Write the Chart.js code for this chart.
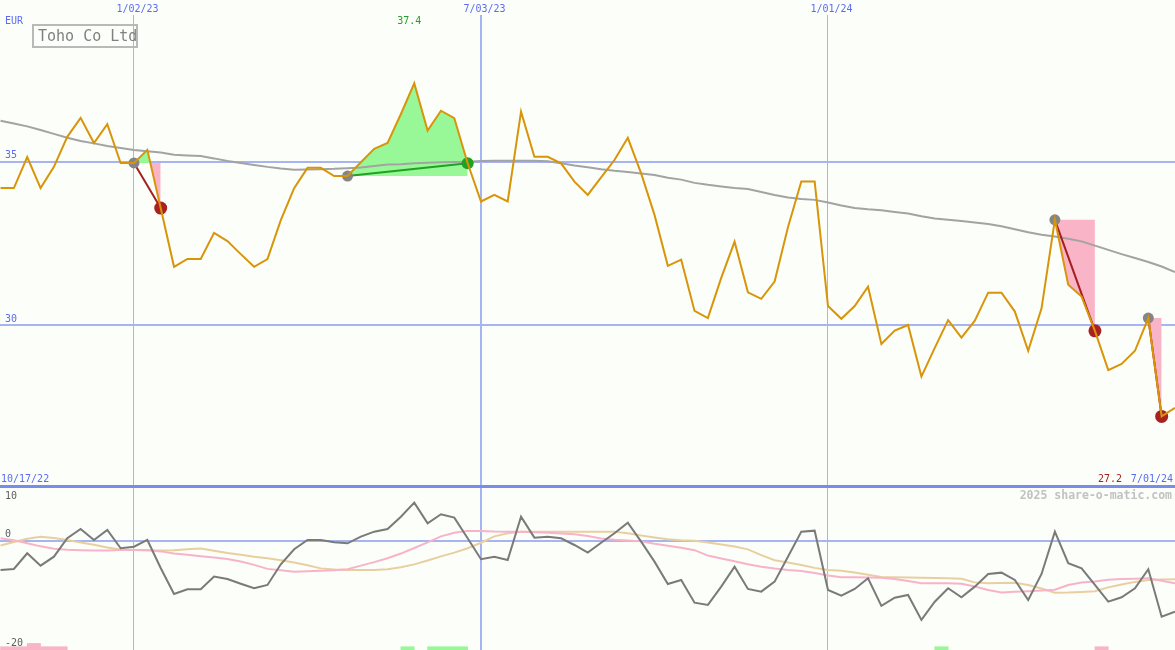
<!DOCTYPE html>
<html>
<head>
<meta charset="utf-8">
<title>Toho Co Ltd</title>
<script src="https://cdn.jsdelivr.net/npm/chart.js@4.4.1/dist/chart.umd.min.js"></script>
<style>
  html, body { margin: 0; padding: 0; background: #fcfefa; }
  #wrap { position: relative; width: 1175px; height: 650px; overflow: hidden; }
  #priceChart { position: absolute; left: 0; top: 0; }
  #oscChart { position: absolute; left: 0; top: 484px; }
</style>
</head>
<body>
<div id="wrap">
  <canvas id="priceChart" width="1175" height="486"></canvas>
  <canvas id="oscChart" width="1175" height="166"></canvas>
</div>
<script>
// --- Data (weekly closes, first point = w/c 24 Oct 2022 = week 1) ---
const company = 'Toho Co Ltd';
const currency = 'EUR';
const firstDate = '10/17/22';
const lastDate = '7/01/24';
const weekStart = 1;

const dateTicks = [11, 37, 63];
const dateLabels = ['1/02/23', '7/03/23', '1/01/24'];
const priceTicks = [30, 35];
const oscTicks = [0, -20];
const oscTopTick = [10];

const closes = [
    34.19, 34.19, 35.14, 34.19, 34.84, 35.76, 36.34, 35.57, 36.15, 34.96,
    34.96, 35.36, 33.58, 31.78, 32.02, 32.02, 32.82, 32.57, 32.17, 31.78,
    32.02, 33.21, 34.19, 34.81, 34.81, 34.56, 34.56, 34.98, 35.39, 35.57,
    36.46, 37.40, 35.95, 36.56, 36.33, 34.95, 33.78, 33.98, 33.78, 36.53,
    35.15, 35.15, 34.95, 34.39, 33.98, 34.52, 35.05, 35.73, 34.64, 33.37,
    31.81, 32.00, 30.43, 30.21, 31.44, 32.55, 31.00, 30.80, 31.33, 32.99,
    34.39, 34.39, 30.58, 30.19, 30.58, 31.17, 29.42, 29.83, 30.00, 28.42,
    29.30, 30.15, 29.61, 30.13, 30.99, 30.99, 30.41, 29.21, 30.51, 33.22,
    31.23, 30.87, 29.82, 28.62, 28.81, 29.21, 30.21, 27.20, 27.46
];

const longAvg = [
    36.25, 36.17, 36.08, 35.97, 35.85, 35.73, 35.63, 35.56, 35.48, 35.42,
    35.36, 35.32, 35.28, 35.21, 35.19, 35.17, 35.10, 35.02, 34.96, 34.90,
    34.84, 34.79, 34.75, 34.76, 34.77, 34.78, 34.80, 34.82, 34.87, 34.91,
    34.92, 34.95, 34.97, 34.98, 34.99, 35.00, 35.02, 35.03, 35.03, 35.03,
    35.03, 35.01, 34.95, 34.88, 34.83, 34.77, 34.72, 34.68, 34.64, 34.59,
    34.51, 34.45, 34.35, 34.29, 34.24, 34.19, 34.16, 34.07, 33.98, 33.90,
    33.86, 33.83, 33.75, 33.66, 33.58, 33.54, 33.51, 33.46, 33.41, 33.33,
    33.26, 33.22, 33.18, 33.14, 33.09, 33.02, 32.93, 32.84, 32.76, 32.71,
    32.64, 32.56, 32.43, 32.30, 32.17, 32.05, 31.93, 31.79, 31.62
];

const momentum = [
    -5.36, -5.18, -2.30, -4.57, -2.93, 0.44, 2.14, 0.13, 1.96, -1.39,
    -1.10, 0.13, -5.00, -9.75, -8.89, -8.89, -6.58, -7.01, -7.87, -8.71,
    -8.10, -4.32, -1.57, 0.13, 0.13, -0.29, -0.48, 0.73, 1.65, 2.14,
    4.39, 6.95, 3.18, 4.83, 4.21, 0.44, -3.40, -2.93, -3.53, 4.39,
    0.55, 0.73, 0.44, -0.79, -2.19, -0.37, 1.35, 3.29, -0.18, -3.84,
    -7.92, -7.19, -11.34, -11.76, -8.41, -4.76, -8.83, -9.33, -7.50, -2.93,
    1.65, 1.83, -9.02, -10.06, -8.83, -6.88, -11.94, -10.43, -9.93, -14.50,
    -11.16, -8.71, -10.35, -8.41, -6.09, -5.85, -7.19, -10.85, -6.09, 1.65,
    -4.13, -5.05, -8.10, -11.16, -10.35, -8.71, -5.23, -13.90, -12.99
];

const fastSignal = [
    0.44, 0.07, -0.46, -1.04, -1.46, -1.65, -1.74, -1.81, -1.78, -1.72,
    -1.70, -1.70, -1.96, -2.34, -2.56, -2.84, -3.07, -3.35, -3.82, -4.43,
    -5.16, -5.41, -5.67, -5.58, -5.51, -5.43, -5.21, -4.57, -3.93, -3.22,
    -2.36, -1.34, -0.31, 0.79, 1.43, 1.79, 1.77, 1.68, 1.65, 1.63,
    1.54, 1.43, 1.30, 1.17, 0.86, 0.40, 0.18, 0.04, -0.13, -0.57,
    -0.91, -1.28, -1.74, -2.73, -3.26, -3.77, -4.32, -4.77, -5.10, -5.36,
    -5.56, -5.91, -6.38, -6.69, -6.71, -6.75, -6.77, -7.01, -7.37, -7.79,
    -7.79, -7.79, -7.87, -8.40, -9.02, -9.48, -9.35, -9.26, -9.13, -8.98,
    -8.12, -7.66, -7.46, -7.13, -7.01, -6.95, -6.88, -7.32, -7.79
];

const slowSignal = [
    -0.90, -0.26, 0.35, 0.70, 0.49, 0.13, -0.33, -0.73, -1.26, -1.63,
    -1.72, -1.81, -1.79, -1.74, -1.59, -1.43, -1.85, -2.25, -2.58, -2.96,
    -3.20, -3.60, -4.01, -4.50, -5.07, -5.29, -5.36, -5.36, -5.36, -5.23,
    -4.88, -4.34, -3.64, -2.87, -2.19, -1.39, -0.38, 0.79, 1.37, 1.65,
    1.65, 1.65, 1.65, 1.65, 1.65, 1.65, 1.65, 1.35, 0.93, 0.57,
    0.26, 0.09, 0.00, -0.35, -0.70, -1.08, -1.59, -2.65, -3.59, -4.01,
    -4.44, -4.98, -5.36, -5.51, -5.82, -6.24, -6.64, -6.71, -6.75, -6.79,
    -6.82, -6.86, -6.97, -7.63, -7.77, -7.74, -7.70, -8.12, -8.76, -9.51,
    -9.48, -9.38, -9.24, -8.54, -8.01, -7.54, -7.21, -7.12, -7.06
];

// trades: entry week, exit week
const tradeIn = [11, 27, 80, 87];
const tradeOut = [13, 36, 83, 88];

// signal blocks along the bottom of the oscillator (week they start in)
const sigWeeks = [1, 2, 3, 4, 5, 31, 33, 34, 35, 71, 83];
const sigSize = [0.6, 0.6, 1.2, 0.6, 0.6, 0.6, 0.6, 0.6, 0.6, 0.6, 0.6];
const sigBuy = [false, false, false, false, false, true, true, true, true, true, false];

// --- Styles ---
const mono = '"DejaVu Sans Mono", "Liberation Mono", monospace';
const labelBlue = '#5b6cf0';
const gridBlue = '#a7b4f3';
const edgeBlue = '#7b8bea';
const winGreen = '#22a022';
const lossRed = '#a51f1f';
const xMin = 0.96, xMax = 89;

const weekNo = closes.map((_, i) => weekStart + i);
const pts = arr => arr.map((v, i) => ({ x: weekNo[i], y: v }));
const priceAt = w => closes[w - weekStart];

const noPad = s => { s.paddingLeft = s.paddingRight = s.paddingTop = s.paddingBottom = 0; };
const dateGrid = {
    color: gridBlue,
    lineWidth: c => (dateLabels[c.index] || '').startsWith('7/') ? 2 : 1,
    drawTicks: false,
    offset: false
};

// --- Price panel ---
const tradeLines = tradeIn.map((w, i) => {
    const a = priceAt(w), b = priceAt(tradeOut[i]);
    const win = b > a;
    return {
        data: [{ x: w, y: a }, { x: tradeOut[i], y: b }],
        borderColor: win ? winGreen : lossRed,
        borderWidth: 2,
        pointRadius: [5.5, win ? 6 : 6.5],
        pointBackgroundColor: ['#858585', win ? winGreen : '#a82222'],
        pointBorderWidth: 0,
        order: 1
    };
});

const tradeLevels = tradeIn.map((w, i) => ({
    data: [{ x: w, y: priceAt(w) }, { x: tradeOut[i], y: priceAt(w) }],
    borderColor: 'rgba(0,0,0,0)',
    borderWidth: 0,
    fill: { target: 0, above: '#f9b4c8', below: '#98f898' },
    order: 4
}));

const priceText = {
    id: 'priceText',
    afterDraw(chart) {
        const { ctx, scales: { x } } = chart;
        ctx.save();
        ctx.font = '10px ' + mono;
        ctx.textBaseline = 'middle';
        ctx.textAlign = 'left';
        ctx.fillStyle = labelBlue;
        ctx.fillText(currency, 5, 21);
        ctx.fillText(firstDate, 1, 479);
        ctx.textAlign = 'right';
        ctx.fillText(lastDate, 1173, 479);

        const hi = Math.max(...closes), lo = Math.min(...closes);
        ctx.textAlign = 'left';
        ctx.fillStyle = winGreen;
        ctx.fillText(hi.toFixed(1), x.getPixelForValue(weekNo[closes.indexOf(hi)]) - 17, 21);
        ctx.textAlign = 'right';
        ctx.fillStyle = lossRed;
        ctx.fillText(lo.toFixed(1), 1122, 479);

        ctx.strokeStyle = '#b9b9b9';
        ctx.lineWidth = 2;
        ctx.strokeRect(33, 25, 104, 22);
        ctx.font = '15px ' + mono;
        ctx.textBaseline = 'alphabetic';
        ctx.textAlign = 'left';
        ctx.fillStyle = '#808080';
        ctx.fillText(company, 38, 41);
        ctx.restore();
    }
};

new Chart(document.getElementById('priceChart'), {
    type: 'line',
    data: {
        datasets: [
            { data: pts(closes), borderColor: '#d8950a', borderWidth: 2, order: 0 },
            { data: pts(longAvg), borderColor: '#a3a3a3', borderWidth: 2, order: 3 },
            ...tradeLines,
            ...tradeLevels
        ]
    },
    options: {
        responsive: false,
        animation: false,
        devicePixelRatio: 1,
        layout: { padding: 0, autoPadding: false },
        elements: { point: { radius: 0 }, line: { tension: 0 } },
        plugins: { legend: { display: false }, tooltip: { enabled: false } },
        scales: {
            x: {
                type: 'linear', position: 'top', min: xMin, max: xMax,
                afterBuildTicks: s => { s.ticks = dateTicks.map(v => ({ value: v })); },
                afterFit: s => { s.height = 15; noPad(s); },
                grid: dateGrid,
                border: { display: false },
                ticks: {
                    color: labelBlue, font: { family: mono, size: 10 },
                    padding: 0, labelOffset: 3.5, maxRotation: 0, minRotation: 0, autoSkip: false,
                    callback: v => dateLabels[dateTicks.indexOf(v)]
                }
            },
            y: {
                min: 25.07, max: 39.49,
                afterBuildTicks: s => { s.ticks = priceTicks.map(v => ({ value: v })); },
                afterFit: s => { s.width = 0; noPad(s); },
                grid: { color: gridBlue, lineWidth: 2, drawTicks: false },
                border: { display: false },
                ticks: {
                    mirror: true, padding: 5, labelOffset: -6,
                    color: labelBlue, font: { family: mono, size: 10 }
                }
            }
        }
    },
    plugins: [priceText]
});

// --- Oscillator panel ---
const oscText = {
    id: 'oscText',
    afterDraw(chart) {
        const { ctx } = chart;
        ctx.save();
        ctx.font = 'bold 11.5px ' + mono;
        ctx.textBaseline = 'middle';
        ctx.textAlign = 'right';
        ctx.fillStyle = '#c2c2c2';
        ctx.fillText('2025 share-o-matic.com', 1172, 12);
        ctx.restore();
    }
};

new Chart(document.getElementById('oscChart'), {
    type: 'line',
    data: {
        datasets: [
            { data: pts(momentum), borderColor: '#7a7a7a', borderWidth: 2, order: 0 },
            { data: pts(fastSignal), borderColor: '#f7b3c9', borderWidth: 2, order: 1 },
            { data: pts(slowSignal), borderColor: '#e8cf9f', borderWidth: 2, order: 2 },
            {
                type: 'bar',
                data: sigWeeks.map((w, i) => ({ x: w + 0.5, y: [-20, -20 + sigSize[i]] })),
                backgroundColor: sigBuy.map(b => b ? '#98f898' : '#f9b4c8'),
                borderWidth: 0, categoryPercentage: 1, barPercentage: 1, order: 3
            }
        ]
    },
    options: {
        responsive: false,
        animation: false,
        devicePixelRatio: 1,
        layout: { padding: { top: 2, left: 0, right: 0, bottom: 0 }, autoPadding: false },
        elements: { point: { radius: 0 }, line: { tension: 0 } },
        plugins: { legend: { display: false }, tooltip: { enabled: false } },
        scales: {
            x: {
                type: 'linear', position: 'bottom', min: xMin, max: xMax, offset: false,
                afterBuildTicks: s => { s.ticks = dateTicks.map(v => ({ value: v })); },
                afterFit: s => { s.height = 0; noPad(s); },
                grid: dateGrid,
                border: { display: false },
                ticks: { display: false }
            },
            y: {
                position: 'left', min: -20, max: 10,
                afterBuildTicks: s => { s.ticks = oscTicks.map(v => ({ value: v })); },
                afterFit: s => { s.width = 0; noPad(s); },
                grid: { color: c => c.tick && c.tick.value === 0 ? gridBlue : 'rgba(0,0,0,0)', lineWidth: 2, drawTicks: false },
                border: { display: false },
                ticks: { mirror: true, padding: 5, labelOffset: -6.5, color: '#5c5c5c', font: { family: mono, size: 10 } }
            },
            yTop: {
                position: 'left', min: -20, max: 10,
                afterBuildTicks: s => { s.ticks = oscTopTick.map(v => ({ value: v })); },
                afterFit: s => { s.width = 0; noPad(s); },
                grid: { color: edgeBlue, lineWidth: 3, drawTicks: false },
                border: { display: false },
                ticks: { mirror: true, padding: 5, labelOffset: 10.5, color: '#5c5c5c', font: { family: mono, size: 10 } }
            }
        }
    },
    plugins: [oscText]
});
</script>
</body>
</html>
